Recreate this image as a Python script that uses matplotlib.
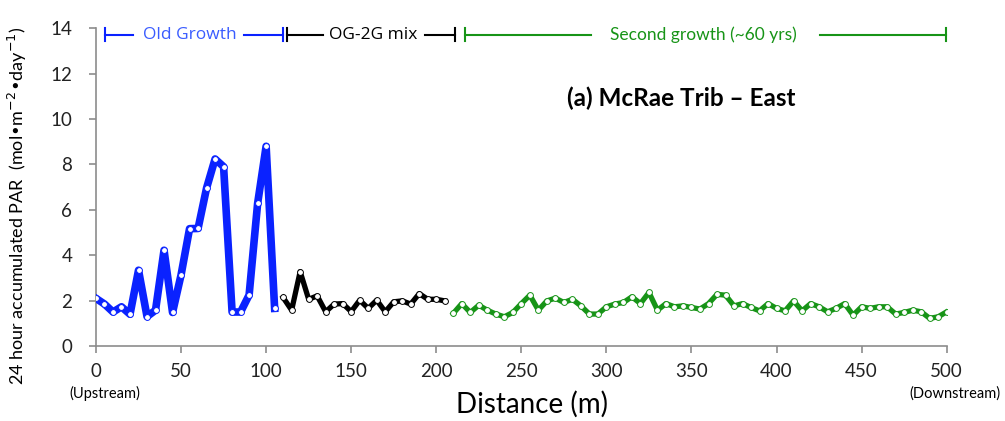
import numpy as np
import matplotlib.pyplot as plt

plt.rcParams['font.family'] = ['Lato', 'DejaVu Sans']

# distance along stream (m) and 24 h accumulated PAR
old_x = list(range(0, 110, 5))
old_par = [2.1, 1.85, 1.5, 1.73, 1.4, 3.34, 1.3, 1.58, 4.22, 1.48, 3.13,
           5.17, 5.18, 6.96, 8.24, 7.9, 1.5, 1.5, 2.25, 6.28, 8.8, 1.66]

mix_x = list(range(110, 210, 5))
mix_par = [2.14, 1.58, 3.28, 2.06, 2.21, 1.51, 1.85, 1.87, 1.52, 2.02,
           1.66, 2.02, 1.51, 1.95, 1.99, 1.85, 2.31, 2.06, 2.06, 1.99]

sec_x = list(range(210, 505, 5))
sec_par = [1.44, 1.87, 1.48, 1.80, 1.58, 1.41, 1.29, 1.48, 1.87, 2.24,
           1.58, 1.99, 2.11, 1.92, 2.06, 1.77, 1.41, 1.41, 1.73, 1.85,
           1.92, 2.17, 1.87, 2.36, 1.58, 1.87, 1.73, 1.77, 1.70, 1.63,
           1.87, 2.28, 2.24, 1.77, 1.87, 1.70, 1.55, 1.87, 1.66, 1.55,
           1.99, 1.55, 1.87, 1.73, 1.51, 1.66, 1.87, 1.36, 1.73, 1.66,
           1.73, 1.73, 1.41, 1.48, 1.58, 1.51, 1.22, 1.29, 1.51]

xticks = list(range(0, 550, 50))
yticks = list(range(0, 16, 2))

blue = '#0a22ff'
green = '#179417'
axis_col = '#8c8c8c'

fig = plt.figure(figsize=(10.05, 4.21), dpi=100)
ax = fig.add_axes([0.0955, 0.178, 0.8465, 0.755])

ax.plot(old_x, old_par, color=blue, lw=5.5, solid_joinstyle='round',
        marker='o', ms=4.2, mfc='white', mec=blue, mew=0.7, zorder=3)
ax.plot(mix_x, mix_par, color='black', lw=3.8, solid_joinstyle='round',
        marker='o', ms=4.2, mfc='white', mec='black', mew=0.7, zorder=3)
ax.plot(sec_x, sec_par, color=green, lw=3.8, solid_joinstyle='round',
        marker='o', ms=4.2, mfc='white', mec=green, mew=0.7, zorder=3)

# segment brackets along the top
yb = 13.72
def bracket(x0, x1, xa, xb, col):
    ax.plot([x0, xa], [yb, yb], color=col, lw=1.5, clip_on=False)
    ax.plot([xb, x1], [yb, yb], color=col, lw=1.5, clip_on=False)
    ax.plot([x0, x0], [yb - 0.3, yb + 0.3], color=col, lw=1.5, clip_on=False)
    ax.plot([x1, x1], [yb - 0.3, yb + 0.3], color=col, lw=1.5, clip_on=False)

bracket(5.3, 110, 21.7, 87, blue)
ax.text(55, yb, 'Old Growth', color='#3a5cff', fontsize=12.5, ha='center', va='center',
        family=['Open Sans', 'DejaVu Sans'])
bracket(112.2, 211, 133.4, 193.3, 'black')
ax.text(163, yb, 'OG-2G mix', color='black', fontsize=12.5, ha='center', va='center',
        family=['Open Sans', 'DejaVu Sans'])
bracket(216.8, 499.8, 291.2, 425.4, green)
ax.text(357, yb, 'Second growth (~60 yrs)', color=green, fontsize=12.5,
        ha='center', va='center')

ax.text(343.7, 10.9, '(a) McRae Trib – East', fontsize=17.5, fontweight='bold',
        ha='center', va='center')

ax.set_xlim(0, 500)
ax.set_ylim(0, 14)
ax.set_xticks(xticks)
ax.set_yticks(yticks)
ax.tick_params(axis='both', colors=axis_col, labelcolor='#222222', labelsize=13.5,
               length=5, width=1.2)
ax.tick_params(axis='y', pad=12)
ax.tick_params(axis='x', pad=7)
for s in ['top', 'right']:
    ax.spines[s].set_visible(False)
for s in ['left', 'bottom']:
    ax.spines[s].set_color(axis_col)
    ax.spines[s].set_linewidth(1.2)

ax.set_xlabel('Distance (m)', fontsize=20)
ax.xaxis.set_label_coords(0.512, -0.14)
ax.set_ylabel('24 hour accumulated PAR  (mol•m$^{-2}$•day$^{-1}$)', fontsize=13)
ax.yaxis.set_label_coords(-0.079, 0.44)

ax.text(5, -0.15, '(Upstream)', fontsize=10.5, ha='center', va='center',
        transform=ax.get_xaxis_transform(), clip_on=False)
ax.text(505, -0.15, '(Downstream)', fontsize=10.5, ha='center', va='center',
        transform=ax.get_xaxis_transform(), clip_on=False)

fig.savefig('out.png', dpi=100)
